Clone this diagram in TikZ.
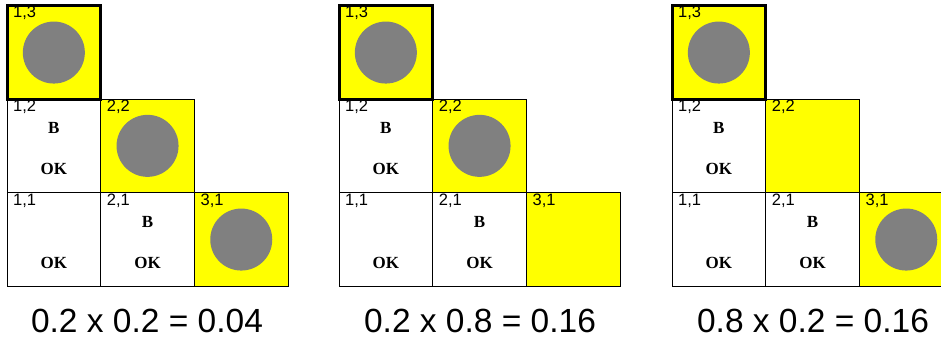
\documentclass[tikz,border=0pt]{standalone}
\usepackage{fontspec}
\setmainfont{Liberation Serif}
\setsansfont{Liberation Sans}
\definecolor{pityellow}{RGB}{255,255,0}
\definecolor{wgray}{RGB}{128,128,128}
\begin{document}
\begin{tikzpicture}[x=1pt,y=-1pt,
  cell/.style={draw=black, line width=1pt, fill=white, minimum size=93.7pt, inner sep=0pt, outer sep=0pt, anchor=north west},
  pitcell/.style={cell, fill=pityellow},
  startcell/.style={line width=3pt},
  wumpus/.style={circle, fill=wgray, minimum size=62pt, inner sep=0pt},
  lbl/.style={font=\sffamily\fontsize{16.5}{16.5}\selectfont, anchor=base west, inner sep=0pt},
  bmark/.style={font=\bfseries\fontsize{17}{17}\selectfont, inner sep=0pt},
  caption/.style={font=\sffamily\fontsize{33.5}{34}\selectfont, inner sep=0pt}]
\useasboundingbox (0,0) rectangle (941,338);
\begin{scope}
\clip (0,0) rectangle (941,338);
\foreach \g/\ox in {1/7, 2/339, 3/672}{
  \node[cell] (g\g c11) at (\ox,192.7) {};
  \node[cell] (g\g c21) at (\ox+93.7,192.7) {};
  \node[cell] (g\g c12) at (\ox,99) {};
}
% grid 1
\node[pitcell] (g1c22) at (100.7,99) {};
\node[pitcell] (g1c31) at (194.4,192.7) {};
\node[pitcell,startcell] (g1c13) at (7,5.7) {};
\node[wumpus] at (g1c13.center) {};
\node[wumpus] at (g1c22.center) {};
\node[wumpus] at (g1c31.center) {};
% grid 2
\node[pitcell] (g2c22) at (432.7,99) {};
\node[pitcell] (g2c31) at (526.4,192.7) {};
\node[pitcell,startcell] (g2c13) at (339,5.7) {};
\node[wumpus] at (g2c13.center) {};
\node[wumpus] at (g2c22.center) {};
% grid 3
\node[pitcell] (g3c22) at (765.7,99) {};
\node[pitcell] (g3c31) at (859.4,192.7) {};
\node[pitcell,startcell] (g3c13) at (672,5.7) {};
\node[wumpus] at (g3c13.center) {};
\node[wumpus] at (g3c31.center) {};
% labels
\foreach \g in {1,2,3}{
  \node[lbl] at ([xshift=6pt,yshift=-12pt]g\g c13.north west) {1,3};
  \node[lbl] at ([xshift=6pt,yshift=-12.5pt]g\g c12.north west) {1,2};
  \node[lbl] at ([xshift=6pt,yshift=-12.5pt]g\g c22.north west) {2,2};
  \node[lbl] at ([xshift=6pt,yshift=-12.5pt]g\g c11.north west) {1,1};
  \node[lbl] at ([xshift=6pt,yshift=-12.5pt]g\g c21.north west) {2,1};
  \node[lbl] at ([xshift=6pt,yshift=-12.5pt]g\g c31.north west) {3,1};
  \node[bmark] at ([yshift=-28.5pt]g\g c12.north) {B};
  \node[bmark] at ([yshift=-70pt]g\g c12.north) {OK};
  \node[bmark] at ([yshift=-29pt]g\g c21.north) {B};
  \node[bmark] at ([yshift=-70pt]g\g c21.north) {OK};
  \node[bmark] at ([yshift=-70pt]g\g c11.north) {OK};
}
\end{scope}
% captions
\node[caption] (cap1) at (147,320.5) {0.2 x 0.2 = 0.04};
\node[caption] (cap2) at (480,320.5) {0.2 x 0.8 = 0.16};
\node[caption] (cap3) at (813,320.5) {0.8 x 0.2 = 0.16};
\end{tikzpicture}
\end{document}
